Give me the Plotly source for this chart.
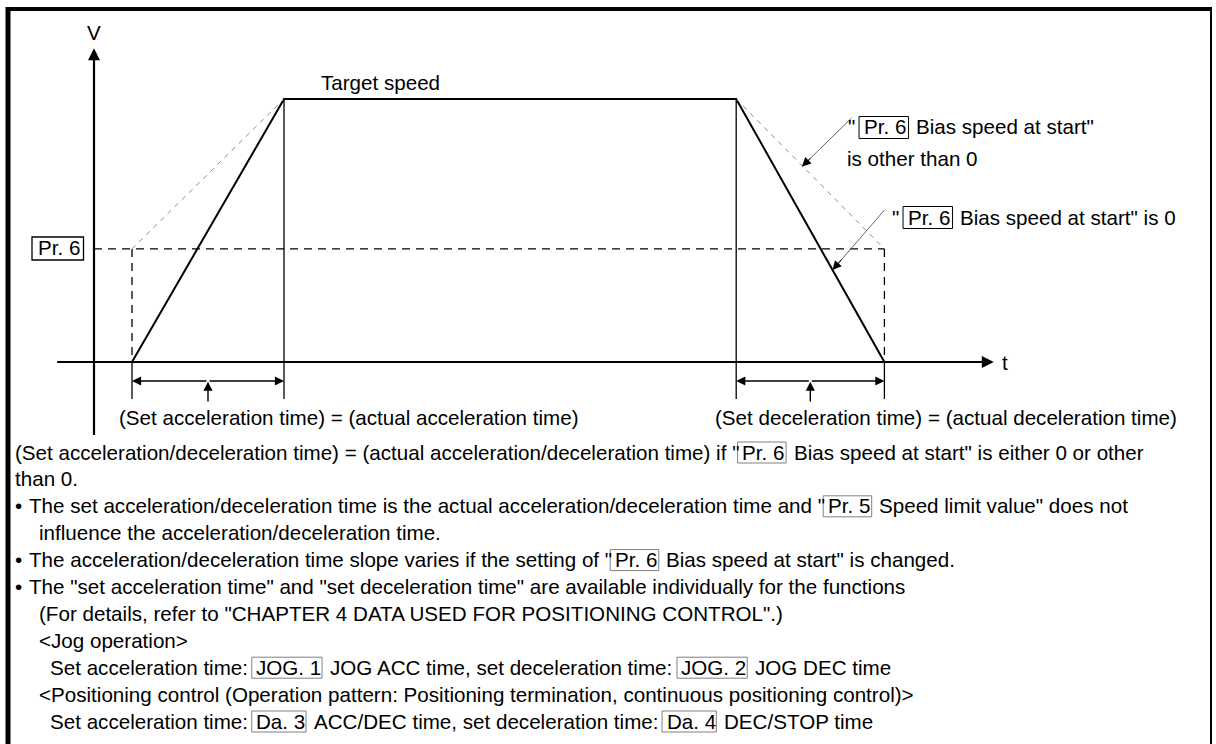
import plotly.graph_objects as go

# ---------------- data (diagram values) ----------------
profile_times = [10, 50, 169, 208]          # accel start, accel end, decel start, decel end
target_speed = 100                          # "Target speed"
bias_speed = 43                             # Pr. 6 bias speed at start
axis_t_extent = [-9.7, 236.8]               # t axis drawn from / arrow tip
axis_v_extent = [-27.8, 119.3]              # V axis drawn from / arrow tip
dim_level = -7.2                            # level of the dimension arrows
tick_bottom = -14.1                         # lower end of the dimension ticks
pointer_bottom = -15.6                      # foot of the little pointer arrows

chart_labels = {
    "v": "V",
    "t": "t",
    "target": "Target speed",
    "acc": "(Set acceleration time) = (actual acceleration time)",
    "dec": "(Set deceleration time) = (actual deceleration time)",
}

paragraph_lines = [
    [("(Set acceleration/deceleration time) = (actual acceleration/deceleration time) if \"", False), ("Pr. 6", True), (" Bias speed at start\" is either 0 or other", False)],
    [("than 0.", False)],
    [("\u2022", False), ("The set acceleration/deceleration time is the actual acceleration/deceleration time and \"", False), ("Pr. 5", True), (" Speed limit value\" does not", False)],
    [("influence the acceleration/deceleration time.", False)],
    [("\u2022", False), ("The acceleration/deceleration time slope varies if the setting of \"", False), ("Pr. 6", True), (" Bias speed at start\" is changed.", False)],
    [("\u2022", False), ("The \"set acceleration time\" and \"set deceleration time\" are available individually for the functions", False)],
    [("(For details, refer to \"CHAPTER 4 DATA USED FOR POSITIONING CONTROL\".)", False)],
    [("<Jog operation>", False)],
    [("Set acceleration time: ", False), ("JOG. 1", True), (" JOG ACC time, set deceleration time: ", False), ("JOG. 2", True), (" JOG DEC time", False)],
    [("<Positioning control (Operation pattern: Positioning termination, continuous positioning control)>", False)],
    [("Set acceleration time: ", False), ("Da. 3", True), (" ACC/DEC time, set deceleration time: ", False), ("Da. 4", True), (" DEC/STOP time", False)],
]
# indentation kind of every paragraph line: 0 = flush, 1 = bullet, 2 = continuation, 3 = sub item
paragraph_indent = [0, 0, 1, 2, 1, 1, 2, 2, 3, 2, 3]

note1_line1 = [("\" ", False), ("Pr. 6", True), (" Bias speed at start\"", False)]
note1_line2 = [("is other than 0", False)]
note2_line = [("\" ", False), ("Pr. 6", True), (" Bias speed at start\" is 0", False)]

# ---------------- layout helpers ----------------
W, H = 1216, 744
FONT = "Liberation Sans, Arial, sans-serif"
FS = 20.6

X0, Y0 = 94, 362           # pixel position of the V/t origin
PX_T, PX_V = 3.8, 2.63     # pixels per time / speed unit
x_range = [-X0 / PX_T, (W - X0) / PX_T]
y_range = [-(H - Y0) / PX_V, Y0 / PX_V]

def dx(px):
    return (px - X0) / PX_T

def dy(py):
    return (Y0 - py) / PX_V

def xp(px):
    return px / W

def yp(py):
    return 1 - py / H

AW = {' ': 278, '!': 278, '"': 355, '#': 556, '$': 556, '%': 889, '&': 667, "'": 191, '(': 333, ')': 333,
      '*': 389, '+': 584, ',': 278, '-': 333, '.': 278, '/': 278, ':': 278, ';': 278, '<': 584, '=': 584,
      '>': 584, '?': 556, '@': 1015, 'A': 667, 'B': 667, 'C': 722, 'D': 722, 'E': 667, 'F': 611, 'G': 778,
      'H': 722, 'I': 278, 'J': 500, 'K': 667, 'L': 556, 'M': 833, 'N': 722, 'O': 778, 'P': 667, 'Q': 778,
      'R': 722, 'S': 667, 'T': 611, 'U': 722, 'V': 667, 'W': 944, 'X': 667, 'Y': 667, 'Z': 611, '[': 278,
      ']': 278, '_': 556, 'a': 556, 'b': 556, 'c': 500, 'd': 556, 'e': 556, 'f': 278, 'g': 556, 'h': 556,
      'i': 222, 'j': 222, 'k': 500, 'l': 222, 'm': 833, 'n': 556, 'o': 556, 'p': 556, 'q': 556, 'r': 333,
      's': 500, 't': 278, 'u': 556, 'v': 500, 'w': 722, 'x': 500, 'y': 500, 'z': 500, '\u2022': 350}
for d in "0123456789":
    AW[d] = 556

def tw(s, fs=FS):
    return sum(AW.get(c, 556) for c in s) * fs / 1000.0

annotations = []
shapes = []

def text_at(x, y, s, anchor="left", fs=FS):
    annotations.append(dict(x=xp(x), y=yp(y), xref="paper", yref="paper", text=s, showarrow=False,
                            xanchor=anchor, yanchor="middle",
                            font=dict(family=FONT, size=fs, color="black")))

def box(x0, x1, yc, h, color, lw):
    shapes.append(dict(type="rect", xref="paper", yref="paper", x0=xp(x0), x1=xp(x1),
                       y0=yp(yc - h / 2), y1=yp(yc + h / 2), line=dict(color=color, width=lw),
                       fillcolor="rgba(0,0,0,0)"))

def place_segments(segs, x, y, fs=FS, box_color="#808080", box_lw=1, padx=2.5, box_h=21):
    for text, boxed in segs:
        lead = len(text) - len(text.lstrip(' '))
        trail = len(text) - len(text.rstrip(' '))
        core = text.strip(' ')
        x += tw(' ' * lead, fs)
        if boxed:
            w = tw(core, fs) + 2 * padx
            box(x, x + w, y + 0.5, box_h, box_color, box_lw)
            text_at(x + padx, y, core, fs=fs)
            x += w
        else:
            if core:
                text_at(x, y, core, fs=fs)
            x += tw(core, fs)
        x += tw(' ' * trail, fs)

fig = go.Figure()
t0, t1, t2, t3 = profile_times

def line_trace(xs, ys, color="black", width=2, dash="solid"):
    fig.add_trace(go.Scatter(x=xs, y=ys, mode="lines", hoverinfo="skip", showlegend=False,
                             line=dict(color=color, width=width, dash=dash)))

# speed profile (solid)
line_trace([t0, t1, t2, t3], [0, target_speed, target_speed, 0], width=2)
# profile with a bias speed (thin grey dashed)
line_trace([t0, t1], [bias_speed, target_speed], color="#8c8c8c", width=1, dash="5px,5px")
line_trace([t2, t3], [target_speed, bias_speed], color="#8c8c8c", width=1, dash="5px,5px")
# Pr.6 level
line_trace([0, t3], [bias_speed, bias_speed], width=1.3, dash="8px,6px")
line_trace([t0, t0], [bias_speed, 0], width=1.3, dash="8px,6px")
line_trace([t3, t3], [bias_speed, 0], width=1.3, dash="8px,6px")
# vertical marks
line_trace([t1, t1], [target_speed, tick_bottom], width=1.3)
line_trace([t2, t2], [target_speed, tick_bottom], width=1.3)
line_trace([t0, t0], [0, tick_bottom], width=1.3)
line_trace([t3, t3], [0, tick_bottom], width=1.3)
# axes
line_trace([0, 0], [axis_v_extent[0], axis_v_extent[1] - 3], width=2.2)
line_trace([axis_t_extent[0], axis_t_extent[1] - 2], [0, 0], width=2.2)

def arrow(x, y, ax, ay, width=1.5, size=1.0, color="black", head=2):
    annotations.append(dict(x=x, y=y, ax=ax, ay=ay, xref="x", yref="y", axref="x", ayref="y",
                            text="", showarrow=True, arrowhead=head, arrowsize=size,
                            arrowwidth=width, arrowcolor=color))

arrow(0, axis_v_extent[1], 0, axis_v_extent[1] - 10, width=2, size=1.2)
arrow(axis_t_extent[1], 0, axis_t_extent[1] - 10, 0, width=2, size=1.2)
for a, b in [(t0, t1), (t2, t3)]:
    mid = (a + b) / 2
    arrow(a, dim_level, mid, dim_level, width=1.4, size=1.3)
    arrow(b, dim_level, mid, dim_level, width=1.4, size=1.3)
    arrow(mid, dim_level - 0.3, mid, pointer_bottom, width=1.4, size=1.3)

# pointer arrows of the two notes: grey thin line + black head
def pointer(x_from, y_from, x_tip, y_tip):
    line_trace([dx(x_from), dx(x_tip)], [dy(y_from), dy(y_tip)], color="#555555", width=0.9)
    fx = x_tip + (x_from - x_tip) * 0.2
    fy = y_tip + (y_from - y_tip) * 0.2
    arrow(dx(x_tip), dy(y_tip), dx(fx), dy(fy), width=1.0, size=1.8)

pointer(851.5, 118, 802, 166.5)
pointer(884.5, 210, 832.5, 270)

# chart texts
text_at(94, 33, chart_labels["v"], anchor="center")
text_at(1000, 362, chart_labels["t"])
text_at(319, 82, chart_labels["target"])
text_at(117, 418, chart_labels["acc"])
text_at(713, 418, chart_labels["dec"])
place_segments([("Pr. 6", True)], 32, 248, box_color="black", box_lw=1.3, padx=4, box_h=23)

place_segments(note1_line1, 846, 127, box_color="black", padx=3, box_h=22)
place_segments(note1_line2, 845, 158)
place_segments(note2_line, 890, 217, box_color="black", padx=3, box_h=22)

# paragraph
LINE0, STEP = 452, 26.9
INDENT_X = {0: 13, 1: 13, 2: 37, 3: 48}
for i, (segs, kind) in enumerate(zip(paragraph_lines, paragraph_indent)):
    y = LINE0 + i * STEP
    if kind == 1:
        text_at(INDENT_X[1], y, segs[0][0])
        place_segments(segs[1:], 27, y)
    else:
        place_segments(segs, INDENT_X[kind], y)

# frame
shapes.append(dict(type="line", xref="paper", yref="paper", x0=xp(8), x1=xp(8), y0=yp(7), y1=yp(H + 5),
                   line=dict(color="black", width=5)))
shapes.append(dict(type="line", xref="paper", yref="paper", x0=xp(6), x1=xp(1212), y0=yp(9), y1=yp(9),
                   line=dict(color="black", width=4)))
shapes.append(dict(type="line", xref="paper", yref="paper", x0=xp(1211), x1=xp(1211), y0=yp(8), y1=yp(H + 5),
                   line=dict(color="black", width=2)))

fig.update_layout(
    width=W, height=H, margin=dict(l=0, r=0, t=0, b=0),
    paper_bgcolor="white", plot_bgcolor="white",
    xaxis=dict(range=x_range, visible=False, fixedrange=True),
    yaxis=dict(range=y_range, visible=False, fixedrange=True),
    annotations=annotations, shapes=shapes, showlegend=False,
)

fig.write_html("out.html", config={"displayModeBar": False},
               post_script="document.body.style.margin='0px';document.body.style.overflow='hidden';")
